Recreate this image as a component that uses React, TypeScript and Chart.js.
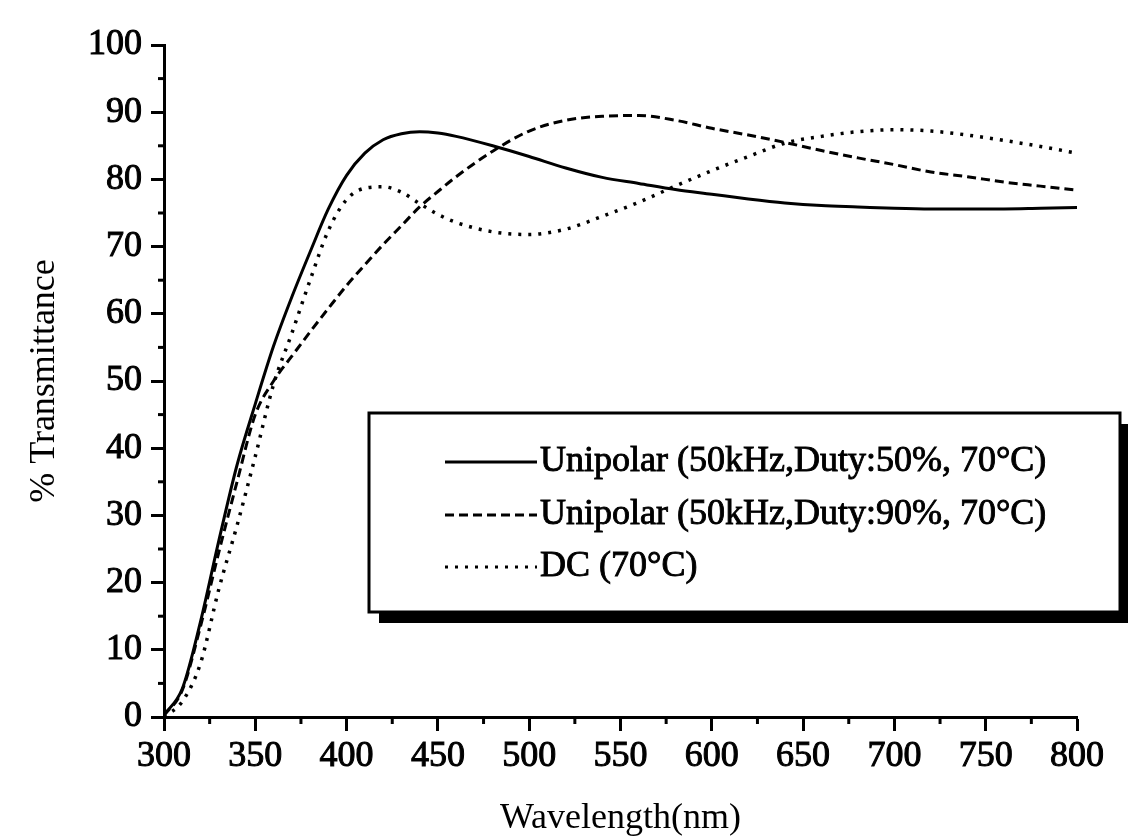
import { useEffect, useRef } from 'react';
import { Chart, registerables } from 'chart.js';

Chart.register(...registerables);

// Wavelength grid (nm)
const wavelengths = [300, 310, 320, 330, 340, 350, 360, 370, 380, 390, 400, 410, 420, 430, 440, 450, 460, 480, 500, 520, 540, 560, 580, 600, 620, 640, 660, 680, 700, 720, 740, 760, 780, 800];

// % Transmittance, Unipolar (50kHz, Duty 50%, 70°C) – solid
const unipolar50 = [0.3, 4.2, 14.2, 26.2, 37.5, 46.6, 55.2, 62.5, 69.2, 75.6, 80.6, 83.9, 85.9, 86.8, 87.1, 86.9, 86.4, 85.0, 83.4, 81.7, 80.3, 79.4, 78.5, 77.8, 77.1, 76.5, 76.1, 75.9, 75.7, 75.6, 75.6, 75.6, 75.7, 75.8];

// % Transmittance, Unipolar (50kHz, Duty 90%, 70°C) – dashed
const unipolar90 = [0.2, 4.0, 13.5, 24.5, 35.0, 45.0, 50.0, 53.7, 57.3, 60.8, 64.2, 67.3, 70.3, 73.1, 75.9, 78.2, 80.4, 84.2, 87.2, 88.8, 89.4, 89.5, 88.8, 87.6, 86.6, 85.5, 84.3, 83.2, 82.2, 81.1, 80.4, 79.6, 79.0, 78.4];

// % Transmittance, DC (70°C) – dotted
const dcSeries = [0.0, 2.3, 8.0, 19.0, 28.5, 38.8, 49.5, 57.1, 65.0, 72.4, 77.0, 78.7, 78.9, 78.1, 76.4, 74.8, 73.6, 72.2, 71.8, 72.6, 74.5, 76.6, 79.0, 81.3, 83.4, 85.4, 86.4, 87.1, 87.4, 87.2, 86.6, 85.8, 84.9, 83.9];

const seriesLabels = [
  'Unipolar (50kHz,Duty:50%, 70°C)',
  'Unipolar (50kHz,Duty:90%, 70°C)',
  'DC (70°C)',
];

const xTitle = 'Wavelength(nm)';
const yTitle = '% Transmittance';

const FONT = '"Liberation Serif", "Times New Roman", Times, serif';

const minorTicksPlugin = {
  id: 'minorTicks',
  afterDraw(chart: any) {
    const { ctx } = chart;
    const xs = chart.scales.x;
    const ys = chart.scales.y;
    ctx.save();
    ctx.strokeStyle = '#000';
    ctx.lineWidth = 3;
    for (let v = xs.min + 25; v < xs.max; v += 50) {
      const px = xs.getPixelForValue(v);
      ctx.beginPath();
      ctx.moveTo(px, ys.bottom);
      ctx.lineTo(px, ys.bottom + 7);
      ctx.stroke();
    }
    for (let v = ys.min + 5; v < ys.max; v += 10) {
      const py = ys.getPixelForValue(v);
      ctx.beginPath();
      ctx.moveTo(xs.left, py);
      ctx.lineTo(xs.left - 6, py);
      ctx.stroke();
    }
    ctx.restore();
  },
};

const legendBoxPlugin = {
  id: 'legendBox',
  afterDatasetsDraw(chart: any) {
    const { ctx } = chart;
    const bx = 369;
    const by = 413;
    const bw = 751;
    const bh = 199;
    ctx.save();
    ctx.fillStyle = '#000';
    ctx.fillRect(bx + 10, by + 11, bw, bh);
    ctx.fillStyle = '#fff';
    ctx.fillRect(bx, by, bw, bh);
    ctx.lineWidth = 3;
    ctx.strokeStyle = '#000';
    ctx.strokeRect(bx, by, bw, bh);

    const rows = [462, 515, 567];
    chart.data.datasets.forEach((ds: any, i: number) => {
      const ry = rows[i];
      ctx.beginPath();
      ctx.setLineDash(ds.borderDash || []);
      ctx.lineWidth = 3;
      ctx.moveTo(445, ry);
      ctx.lineTo(537, ry);
      ctx.stroke();
      ctx.setLineDash([]);
      ctx.fillStyle = '#000';
      ctx.font = `36px ${FONT}`;
      ctx.textAlign = 'left';
      ctx.textBaseline = 'middle';
      ctx.lineWidth = 0.9;
      ctx.strokeText(ds.label, 540, ry);
      ctx.fillText(ds.label, 540, ry);
    });
    ctx.restore();
  },
};

export default function App() {
  const canvasRef = useRef<HTMLCanvasElement | null>(null);

  useEffect(() => {
    if (!canvasRef.current) return;
    const mk = (ys: number[]) => wavelengths.map((x, i) => ({ x, y: ys[i] }));
    const chart = new Chart(canvasRef.current, {
      type: 'line',
      data: {
        datasets: [
          {
            label: seriesLabels[0],
            data: mk(unipolar50),
            borderColor: '#000',
            borderWidth: 3,
            pointRadius: 0,
            cubicInterpolationMode: 'monotone',
            fill: false,
          },
          {
            label: seriesLabels[1],
            data: mk(unipolar90),
            borderColor: '#000',
            borderWidth: 3,
            borderDash: [9, 5],
            pointRadius: 0,
            cubicInterpolationMode: 'monotone',
            fill: false,
          },
          {
            label: seriesLabels[2],
            data: mk(dcSeries),
            borderColor: '#000',
            borderWidth: 3.5,
            borderDash: [3, 7],
            pointRadius: 0,
            cubicInterpolationMode: 'monotone',
            fill: false,
          },
        ],
      },
      plugins: [minorTicksPlugin, legendBoxPlugin],
      options: {
        responsive: false,
        animation: false,
        layout: { padding: { top: 45, right: 51, left: 0, bottom: 0 } },
        plugins: {
          legend: { display: false },
          tooltip: { enabled: false },
        },
        scales: {
          x: {
            type: 'linear',
            position: 'bottom',
            min: 300,
            max: 800,
            afterFit: (s: any) => {
              s.height = 123;
            },
            ticks: {
              stepSize: 50,
              color: '#000',
              padding: 4,
              font: { family: FONT, size: 36 },
              maxRotation: 0,
              textStrokeColor: '#000',
              textStrokeWidth: 1,
            },
            grid: {
              drawOnChartArea: false,
              drawTicks: true,
              tickLength: 14,
              tickWidth: 3,
              tickColor: '#000',
            },
            border: { display: true, color: '#000', width: 3 },
            title: {
              display: true,
              text: xTitle,
              color: '#000',
              font: { family: FONT, size: 36 },
              padding: { top: 0, bottom: 0 },
            },
          },
          y: {
            type: 'linear',
            min: 0,
            max: 100,
            afterFit: (s: any) => {
              s.width = 164;
            },
            ticks: {
              stepSize: 10,
              color: '#000',
              padding: 9,
              font: { family: FONT, size: 36 },
              textStrokeColor: '#000',
              textStrokeWidth: 1,
            },
            grid: {
              drawOnChartArea: false,
              drawTicks: true,
              tickLength: 13,
              tickWidth: 3,
              tickColor: '#000',
            },
            border: { display: true, color: '#000', width: 3 },
            title: {
              display: true,
              text: yTitle,
              color: '#000',
              font: { family: FONT, size: 36 },
              padding: { top: 23, bottom: 0 },
            },
          },
        },
      },
    } as any);
    return () => chart.destroy();
  }, []);

  return (
    <div style={{ position: 'absolute', left: 0, top: 0, width: 1128, height: 840, background: '#fff' }}>
      <canvas ref={canvasRef} width={1128} height={840} style={{ display: 'block' }} />
    </div>
  );
}
